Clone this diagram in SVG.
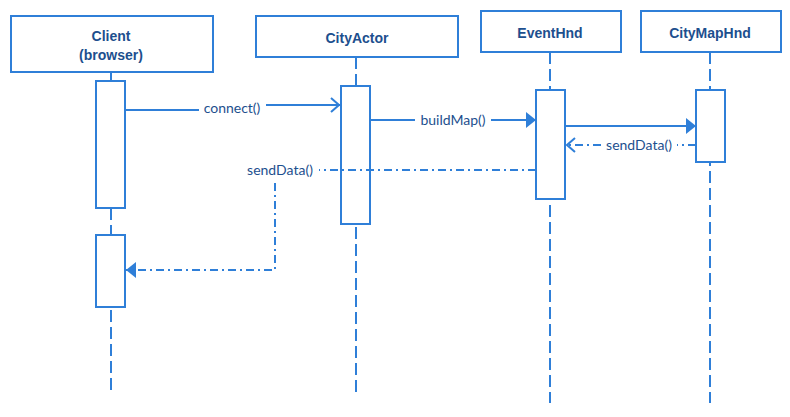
<svg xmlns="http://www.w3.org/2000/svg" width="790" height="417" viewBox="0 0 790 417">
<style>
.box{fill:#fff;stroke:#2f7fd8;stroke-width:2}
.act{fill:#fff;stroke:#2f7fd8;stroke-width:2}
.life{stroke:#2f7fd8;stroke-width:2;stroke-dasharray:12 5;fill:none}
.msg{stroke:#2f7fd8;stroke-width:2;fill:none}
.ret{stroke:#2f7fd8;stroke-width:2;fill:none;stroke-dasharray:8 4 2 4}
.title{font-family:"Liberation Sans",Arial,sans-serif;font-weight:bold;font-size:14px;fill:#1d4f8e;text-anchor:middle}
.lbl{font-family:Lato,"Liberation Sans",sans-serif;font-size:14px;fill:#1d4f8e;text-anchor:middle}
</style>
<defs>
<marker id="open" viewBox="0 0 10 16" refX="10" refY="8" markerWidth="10" markerHeight="16" markerUnits="userSpaceOnUse" orient="auto"><path d="M1,1 L9,8 L1,15" fill="none" stroke="#2f7fd8" stroke-width="2"/></marker>
<marker id="fill" viewBox="0 0 10 16" refX="10" refY="8" markerWidth="10" markerHeight="16" markerUnits="userSpaceOnUse" orient="auto"><path d="M0,0 L10,8 L0,16 Z" fill="#2f7fd8"/></marker>
</defs>
<g id="lifelines">
<line class="life" x1="111" y1="72" x2="111" y2="390"/>
<line class="life" x1="356" y1="57" x2="356" y2="392"/>
<line class="life" x1="550" y1="52" x2="550" y2="403"/>
<line class="life" x1="710" y1="52" x2="710" y2="403"/>
</g>
<g id="client">
<rect class="box" x="11" y="16" width="202" height="56"/>
<text class="title" x="111" y="41">Client</text>
<text class="title" x="111" y="60">(browser)</text>
<rect class="act" x="96" y="81" width="29" height="127"/>
<rect class="act" x="96" y="235" width="29" height="72"/>
</g>
<g id="cityactor">
<rect class="box" x="256" y="16" width="202" height="41"/>
<text class="title" x="357" y="43">CityActor</text>
<rect class="act" x="341" y="86" width="29" height="138"/>
</g>
<g id="eventhnd">
<rect class="box" x="481" y="11" width="140" height="41"/>
<text class="title" x="550" y="38">EventHnd</text>
<rect class="act" x="536" y="90" width="29" height="109"/>
</g>
<g id="citymaphnd">
<rect class="box" x="641" y="11" width="140" height="41"/>
<text class="title" x="710" y="38">CityMapHnd</text>
<rect class="act" x="696" y="90" width="29" height="72"/>
</g>
<g id="connectors">
<path class="msg" d="M125,110 H199"/>
<path class="msg" d="M266,105 H340" marker-end="url(#open)"/>
<text class="lbl" x="232" y="113">connect()</text>
<path class="msg" d="M370,120 H415"/>
<path class="msg" d="M491,120 H536" marker-end="url(#fill)"/>
<text class="lbl" x="453" y="125">buildMap()</text>
<path class="msg" d="M565,126 H696" marker-end="url(#fill)"/>
<path class="ret" d="M696,145 H677"/>
<path class="ret" d="M601,145 H566" marker-end="url(#open)"/>
<text class="lbl" x="639" y="150">sendData()</text>
<path class="ret" d="M536,170 H319"/>
<text class="lbl" x="280" y="175">sendData()</text>
<path class="ret" d="M275,183 V270 H126" marker-end="url(#fill)"/>
</g>
</svg>
